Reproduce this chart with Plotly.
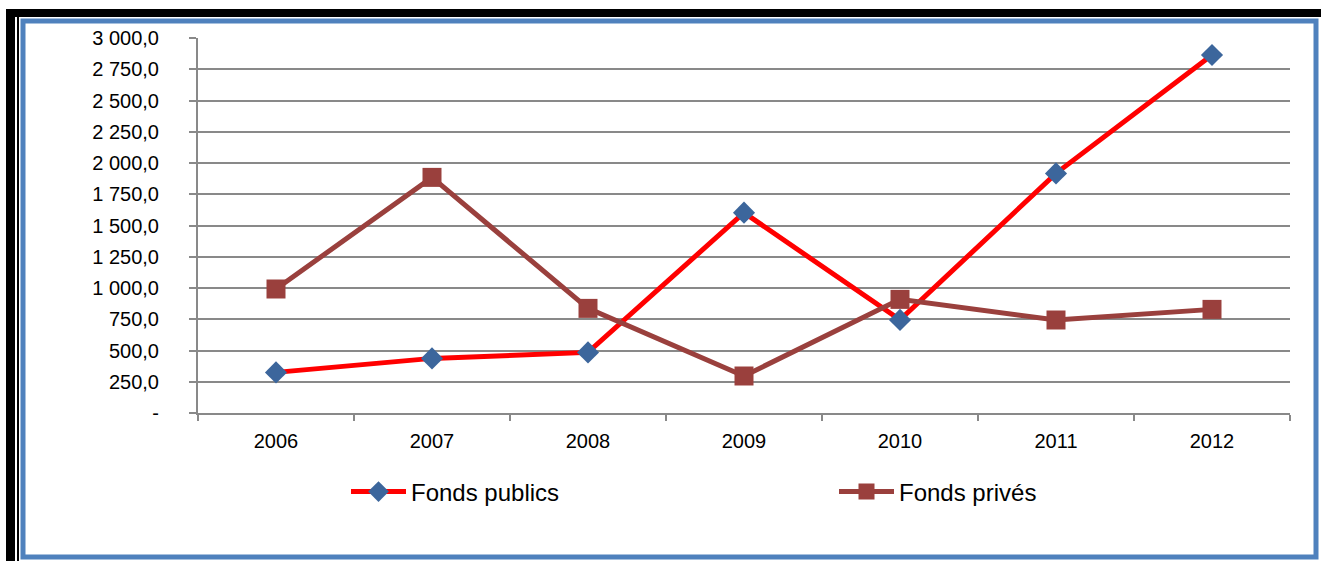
import plotly.graph_objects as go

# Annual funding (values per year)
years = ["2006", "2007", "2008", "2009", "2010", "2011", "2012"]
fonds_publics = [325, 437, 485, 1603, 745, 1917, 2864]
fonds_prives = [992, 1885, 837, 296, 909, 744, 829]

y_tick_values = [0, 250, 500, 750, 1000, 1250, 1500, 1750, 2000, 2250, 2500, 2750, 3000]
y_tick_labels = ["-", "250,0", "500,0", "750,0", "1 000,0", "1 250,0", "1 500,0",
                 "1 750,0", "2 000,0", "2 250,0", "2 500,0", "2 750,0", "3 000,0"]

W, H = 1321, 561
ML, MR, MT, MB = 198, 31, 38, 148
PW, PH = W - ML - MR, H - MT - MB


def px(x):
    return (x - ML) / PW


def py(y):
    return (H - MB - y) / PH


fig = go.Figure()

fig.add_trace(go.Scatter(
    x=years, y=fonds_publics, name="Fonds publics", mode="lines+markers",
    line=dict(color="#FF0000", width=5),
    marker=dict(symbol="diamond", size=17, color="#3C669C"),
    legend="legend",
))
fig.add_trace(go.Scatter(
    x=years, y=fonds_prives, name="Fonds privés", mode="lines+markers",
    line=dict(color="#9A403D", width=5),
    marker=dict(symbol="square", size=19, color="#9A403D"),
    legend="legend2",
))

grid = "#898989"
legend_font = dict(family="Liberation Sans Narrow, Arial Narrow, Liberation Sans", size=24, color="#000000")

fig.update_layout(
    width=W, height=H,
    showlegend=True,
    margin=dict(l=ML, r=MR, t=MT, b=MB),
    paper_bgcolor="#FFFFFF", plot_bgcolor="#FFFFFF",
    font=dict(family="Liberation Sans, Arial", size=20, color="#000000"),
    xaxis=dict(
        type="category", range=[-0.5, 6.5],
        showgrid=False, showline=True, linecolor=grid, linewidth=2,
        ticks="outside", tickson="boundaries", ticklen=6, tickcolor=grid, tickwidth=2,
        ticklabelstandoff=9, zeroline=False,
    ),
    yaxis=dict(
        range=[0, 3000], tickvals=y_tick_values, ticktext=y_tick_labels,
        showgrid=True, gridcolor=grid, gridwidth=2,
        showline=True, linecolor=grid, linewidth=2,
        ticks="outside", ticklen=7, tickcolor=grid, tickwidth=2,
        ticklabelstandoff=26, zeroline=False,
    ),
    legend=dict(
        x=px(346), y=py(492), xanchor="left", yanchor="middle",
        orientation="h", font=legend_font, itemwidth=55,
        bgcolor="rgba(0,0,0,0)", borderwidth=0,
    ),
    legend2=dict(
        x=px(834), y=py(492), xanchor="left", yanchor="middle",
        orientation="h", font=legend_font, itemwidth=55,
        bgcolor="rgba(0,0,0,0)", borderwidth=0,
    ),
    shapes=[
        # outer black frame, top and left
        dict(type="rect", xref="paper", yref="paper", x0=px(6), x1=px(1321), y0=py(9), y1=py(17),
             fillcolor="#000000", line=dict(width=0), layer="above"),
        dict(type="rect", xref="paper", yref="paper", x0=px(6), x1=px(15), y0=py(9), y1=py(561),
             fillcolor="#000000", line=dict(width=0), layer="above"),
        dict(type="rect", xref="paper", yref="paper", x0=px(17), x1=px(19), y0=py(17), y1=py(561),
             fillcolor="#000000", line=dict(width=0), layer="above"),
        # blue chart border
        dict(type="rect", xref="paper", yref="paper", x0=px(23), x1=px(1316), y0=py(21), y1=py(557),
             line=dict(color="#4F81BD", width=5), fillcolor="rgba(0,0,0,0)", layer="above"),
    ],
)

fig.write_html("out.html")
